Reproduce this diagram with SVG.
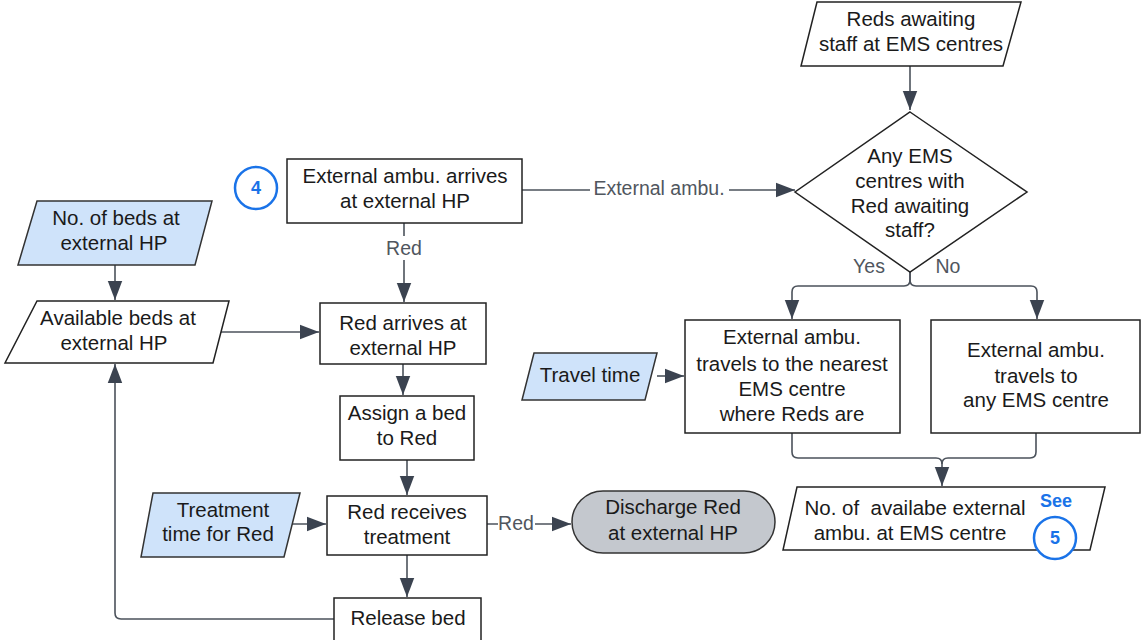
<svg xmlns="http://www.w3.org/2000/svg" width="1142" height="640" viewBox="0 0 1142 640">
  <style>
    .box { fill: #ffffff; stroke: #222222; stroke-width: 1.5; }
    .data { fill: #cfe3fa; stroke: #333333; stroke-width: 1.5; }
    .term { fill: #c4c8ce; stroke: #333333; stroke-width: 1.5; }
    .ref { fill: #ffffff; stroke: #1a73e8; stroke-width: 2.5; }
    .t { font-family: "Liberation Sans", Arial, sans-serif; font-size: 20.5px; fill: #1a1a1a; text-anchor: middle; }
    .lbl { font-family: "Liberation Sans", Arial, sans-serif; font-size: 19.5px; fill: #50565e; text-anchor: middle; }
    .num { font-family: "Liberation Sans", Arial, sans-serif; font-size: 18px; font-weight: bold; fill: #1a73e8; text-anchor: middle; }
    .edge { fill: none; stroke: #4b525b; stroke-width: 1.6; }
    .gap { fill: #ffffff; }
  </style>
  <defs>
    <marker id="arrowL" viewBox="0 0 10 10" refX="10" refY="5" markerWidth="19" markerHeight="19" markerUnits="userSpaceOnUse" orient="auto">
      <path d="M0,1.2 L10,5 L0,8.8 z" fill="#3b4350"/>
    </marker>
  </defs>

  <rect width="1142" height="640" fill="#ffffff"/>

  <!-- connectors -->
  <g id="connectors">
    <path class="edge" d="M910,66 V110" marker-end="url(#arrowL)"/>
    <path class="edge" d="M522,190 H795" marker-end="url(#arrowL)"/>
    <path class="edge" d="M910,272 V280 Q910,286 904,286 H798 Q792,286 792,292 V319" marker-end="url(#arrowL)"/>
    <path class="edge" d="M910,272 V280 Q910,286 916,286 H1031 Q1037,286 1037,292 V319" marker-end="url(#arrowL)"/>
    <path class="edge" d="M657,376 H684" marker-end="url(#arrowL)"/>
    <path class="edge" d="M792,433 V452 Q792,458 798,458 H936 Q942,458 942,464 V486" marker-end="url(#arrowL)"/>
    <path class="edge" d="M1036,433 V452 Q1036,458 1030,458 H948 Q942,458 942,464"/>
    <path class="edge" d="M404,223 V302" marker-end="url(#arrowL)"/>
    <path class="edge" d="M115,265 V300" marker-end="url(#arrowL)"/>
    <path class="edge" d="M221,332 H319" marker-end="url(#arrowL)"/>
    <path class="edge" d="M403,364 V395" marker-end="url(#arrowL)"/>
    <path class="edge" d="M407,460 V495" marker-end="url(#arrowL)"/>
    <path class="edge" d="M291,524 H326" marker-end="url(#arrowL)"/>
    <path class="edge" d="M487,524 H571" marker-end="url(#arrowL)"/>
    <path class="edge" d="M407,555 V597" marker-end="url(#arrowL)"/>
    <path class="edge" d="M334,619 H121 Q115,619 115,613 V364" marker-end="url(#arrowL)"/>
    <!-- connector labels -->
    <rect class="gap" x="590" y="177" width="139" height="24"/>
    <text class="lbl" x="659" y="195">External ambu.</text>
    <rect class="gap" x="386" y="236" width="36" height="24"/>
    <text class="lbl" x="404" y="255">Red</text>
    <rect class="gap" x="498" y="512" width="37" height="22"/>
    <text class="lbl" x="516" y="530">Red</text>
    <text class="lbl" x="869" y="273">Yes</text>
    <text class="lbl" x="948" y="273">No</text>
  </g>

  <g id="reds-awaiting">
    <polygon class="box" points="817,2 1021,2 1003,66 801,66"/>
    <text class="t" x="911" y="26">Reds awaiting</text>
    <text class="t" x="911" y="51">staff at EMS centres</text>
  </g>

  <g id="decision">
    <polygon class="box" points="910,112 1027,192 910,272 795,192"/>
    <text class="t" x="910" y="163">Any EMS</text>
    <text class="t" x="910" y="188">centres with</text>
    <text class="t" x="910" y="213">Red awaiting</text>
    <text class="t" x="910" y="237">staff?</text>
  </g>

  <g id="travel-nearest">
    <rect class="box" x="685" y="320" width="215" height="113"/>
    <text class="t" x="792" y="344">External ambu.</text>
    <text class="t" x="792" y="371">travels to the nearest</text>
    <text class="t" x="792" y="396">EMS centre</text>
    <text class="t" x="792" y="421">where Reds are</text>
  </g>

  <g id="travel-any">
    <rect class="box" x="931" y="320" width="209" height="113"/>
    <text class="t" x="1036" y="357">External ambu.</text>
    <text class="t" x="1036" y="383">travels to</text>
    <text class="t" x="1036" y="407">any EMS centre</text>
  </g>

  <g id="travel-time">
    <polygon class="data" points="534,353 657,353 645,400 522,400"/>
    <text class="t" x="590" y="382">Travel time</text>
  </g>

  <g id="available-ambu">
    <polygon class="box" points="797,487 1105,487 1090,550 783,550"/>
    <text class="t" x="915" y="515" xml:space="preserve">No. of  availabe external</text>
    <text class="t" x="910" y="540">ambu. at EMS centre</text>
    <text class="num" x="1056" y="507">See</text>
    <circle class="ref" cx="1055" cy="538" r="21"/>
    <text class="num" x="1055" y="544">5</text>
  </g>

  <g id="ref-4">
    <circle class="ref" cx="256" cy="188" r="21"/>
    <text class="num" x="256" y="194">4</text>
  </g>

  <g id="ambu-arrives">
    <rect class="box" x="287" y="159" width="235" height="64"/>
    <text class="t" x="405" y="183">External ambu. arrives</text>
    <text class="t" x="405" y="208">at external HP</text>
  </g>

  <g id="beds-total">
    <polygon class="data" points="37,201 212,201 195,265 18,265"/>
    <text class="t" x="116" y="225">No. of beds at</text>
    <text class="t" x="114" y="250">external HP</text>
  </g>

  <g id="beds-available">
    <polygon class="box" points="37,301 229,301 213,363 5,363"/>
    <text class="t" x="118" y="325">Available beds at</text>
    <text class="t" x="114" y="350">external HP</text>
  </g>

  <g id="red-arrives">
    <rect class="box" x="320" y="303" width="166" height="61"/>
    <text class="t" x="403" y="330">Red arrives at</text>
    <text class="t" x="403" y="355">external HP</text>
  </g>

  <g id="assign-bed">
    <rect class="box" x="340" y="396" width="134" height="64"/>
    <text class="t" x="407" y="420">Assign a bed</text>
    <text class="t" x="407" y="445">to Red</text>
  </g>

  <g id="treatment">
    <rect class="box" x="327" y="496" width="160" height="59"/>
    <text class="t" x="407" y="519">Red receives</text>
    <text class="t" x="407" y="544">treatment</text>
  </g>

  <g id="treatment-time">
    <polygon class="data" points="153,493 300,493 284,557 141,557"/>
    <text class="t" x="223" y="517">Treatment</text>
    <text class="t" x="218" y="541">time for Red</text>
  </g>

  <g id="discharge">
    <rect class="term" x="572" y="491" width="203" height="62" rx="31" ry="31"/>
    <text class="t" x="673" y="514">Discharge Red</text>
    <text class="t" x="673" y="540">at external HP</text>
  </g>

  <g id="release-bed">
    <rect class="box" x="334" y="598" width="147" height="44"/>
    <text class="t" x="408" y="625">Release bed</text>
  </g>
</svg>
